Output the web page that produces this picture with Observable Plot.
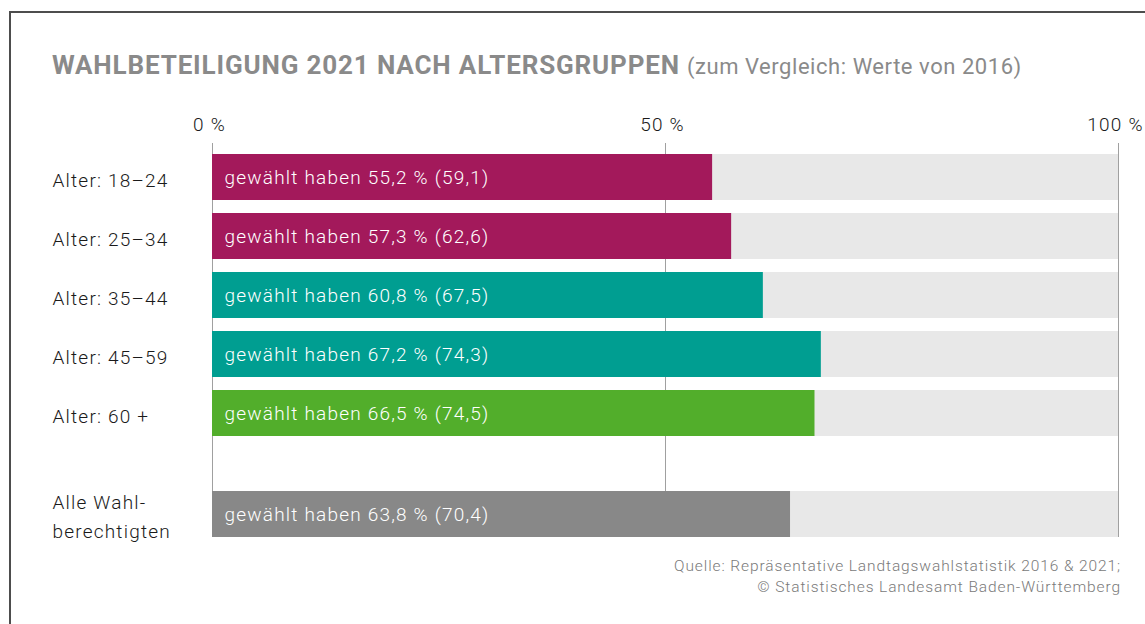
<!DOCTYPE html>
<html>
<head>
<meta charset="utf-8">
<script src="https://cdn.jsdelivr.net/npm/d3@7"></script>
<script src="https://cdn.jsdelivr.net/npm/@observablehq/plot@0.6"></script>
<style>
  html, body { margin: 0; padding: 0; background: #fff; }
  body { width: 1145px; height: 624px; position: relative; overflow: hidden; font-family: Roboto, sans-serif; }
  #frame { position: absolute; left: 9px; top: 11px; width: 1200px; height: 700px; border-top: 2px solid #4d4d4d; border-left: 2px solid #4d4d4d; }
  #title { position: absolute; left: 52px; top: 50px; color: #8a8a8a; white-space: nowrap; }
  #title b { font-size: 26px; font-weight: 700; letter-spacing: 0.85px; }
  #title span { font-size: 22px; font-weight: 400; letter-spacing: 0.55px; margin-left: 3px; }
  #plotA { position: absolute; left: 0; top: 90px; }
  #plotB { position: absolute; left: 0; top: 449px; }
  #source { position: absolute; right: 24px; top: 556px; text-align: right; color: #7a7a7a; font-size: 15.5px; line-height: 21px; font-weight: 300; letter-spacing: 0.9px; }
  svg { display: block; }
  #plotA svg text, #plotB svg text { letter-spacing: 1.2px; }
</style>
</head>
<body>
<div id="frame"></div>
<div id="title"><b>WAHLBETEILIGUNG 2021 NACH ALTERSGRUPPEN</b> <span>(zum Vergleich: Werte von 2016)</span></div>
<div id="plotA"></div>
<div id="plotB"></div>
<div id="source">Quelle: Repräsentative Landtagswahlstatistik 2016 &amp; 2021;<br>© Statistisches Landesamt Baden-Württemberg</div>
<script>
const groups = ["Alter: 18–24", "Alter: 25–34", "Alter: 35–44", "Alter: 45–59", "Alter: 60 +"];
const values2021 = [55.2, 57.3, 60.8, 67.2, 66.5];
const values2016 = [59.1, 62.6, 67.5, 74.3, 74.5];
const groupColors = ["#a3195b", "#a3195b", "#009e91", "#009e91", "#52ae2b"];

const totalLabel = "Alle Wahl-\nberechtigten";
const total2021 = [63.8];
const total2016 = [70.4];
const totalColor = "#888888";

const ticks = [0, 50, 100];

const fmt = v => v.toFixed(1).replace(".", ",");
const label = d => `gewählt haben ${fmt(d.v)} % (${fmt(d.p)})`;

const dataA = groups.map((g, i) => ({ g, v: values2021[i], p: values2016[i] }));
const dataB = [{ g: totalLabel, v: total2021[0], p: total2016[0] }];

const font = "Roboto, sans-serif";
const common = {
  width: 1145,
  marginLeft: 212,
  marginRight: 27,
  x: { domain: [0, 100], axis: null },
  style: { fontFamily: font, background: "transparent" }
};

function marks(data, withTicks) {
  const m = [
    Plot.ruleX(ticks, { stroke: "#a0a0a0", strokeWidth: 1 }),
    Plot.barX(data, { y: "g", x1: 0, x2: 100, fill: "#e8e8e8" }),
    Plot.barX(data, { y: "g", x1: 0, x2: "v", fill: "g" }),
    Plot.text(data, { y: "g", x: 0, text: label, textAnchor: "start", dx: 12, fill: "white", fontSize: 19, fontWeight: 300 }),
    Plot.text(data, { y: "g", x: 0, text: "g", textAnchor: "start", dx: -160, fill: "#1a1a1a", fontSize: 19, fontWeight: 300, lineHeight: 1.52 })
  ];
  if (withTicks) {
    m.push(Plot.text(ticks, { x: d => d, text: d => d + " %", frameAnchor: "top", dy: -26, dx: -3, fill: "#1a1a1a", fontSize: 19, fontWeight: 300 }));
  }
  return m;
}

const plotA = Plot.plot({
  ...common,
  height: 359,
  marginTop: 53,
  marginBottom: 0,
  y: { domain: groups, range: [51, 359], padding: 0.22, axis: null },
  color: { domain: groups, range: groupColors },
  marks: marks(dataA, true)
});
document.getElementById("plotA").append(plotA);

const plotB = Plot.plot({
  ...common,
  height: 100,
  marginTop: 0,
  marginBottom: 12,
  y: { domain: [totalLabel], range: [42, 88], padding: 0, axis: null },
  color: { domain: [totalLabel], range: [totalColor] },
  marks: marks(dataB, false)
});
document.getElementById("plotB").append(plotB);
</script>
</body>
</html>
